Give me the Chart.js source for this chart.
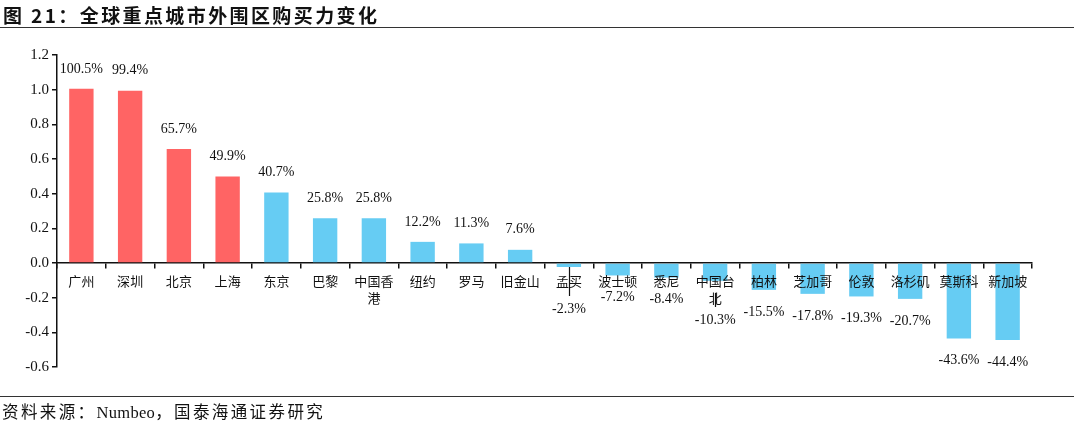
<!DOCTYPE html>
<html><head><meta charset="utf-8">
<script src="https://cdn.jsdelivr.net/npm/chart.js@4.4.1/dist/chart.umd.min.js"></script>
<style>
html,body{margin:0;padding:0;background:#fff;width:1080px;height:423px;overflow:hidden;}
#title{position:absolute;left:3px;top:1px;font-family:"Noto Sans CJK SC","Liberation Serif",serif;font-weight:bold;font-size:19px;color:#111;letter-spacing:2.4px;}
#tline{position:absolute;left:0;top:27px;width:1074px;height:0;border-top:1.5px solid #333;}
#sline{position:absolute;left:0;top:396px;width:1074px;height:0;border-top:1.5px solid #333;}
#source{position:absolute;left:2px;top:399px;font-family:"Liberation Serif","Noto Sans CJK SC",serif;font-size:16.5px;color:#111;letter-spacing:2.4px;}
#source .en{letter-spacing:0.3px;}
#wrap{position:absolute;left:0;top:0;width:1080px;height:423px;}
</style></head>
<body>
<div id="wrap"><canvas id="c"></canvas></div>
<div id="title">图 21：全球重点城市外围区购买力变化</div>
<div id="tline"></div>
<div id="sline"></div>
<div id="source">资料来源：<span class="en">Numbeo</span>，国泰海通证券研究</div>
<script>
const categories = ['广州','深圳','北京','上海','东京','巴黎',['中国香','港'],'纽约','罗马','旧金山','孟买','波士顿','悉尼',['中国台','北'],'柏林','芝加哥','伦敦','洛杉矶','莫斯科','新加坡'];
const values = [1.005,0.994,0.657,0.499,0.407,0.258,0.258,0.122,0.113,0.076,-0.023,-0.072,-0.084,-0.103,-0.155,-0.178,-0.193,-0.207,-0.436,-0.444];
const yTicks = [-0.6,-0.4,-0.2,0.0,0.2,0.4,0.6,0.8,1.0,1.2];
const highlightCount = 4;

const RED = '#FF6464';
const BLUE = '#66CCF3';
const colors = values.map((v,i)=> i < highlightCount ? RED : BLUE);

const labelPlugin = {
  id:'vlabels',
  afterDatasetsDraw(chart){
    const ctx = chart.ctx;
    const meta = chart.getDatasetMeta(0);
    const yScale = chart.scales.y;
    const zeroY = yScale.getPixelForValue(0);
    ctx.save();
    ctx.font = '14px "Liberation Serif", serif';
    ctx.fillStyle = '#111';
    ctx.textAlign = 'center';
    ctx.textBaseline = 'middle';
    meta.data.forEach((bar,i)=>{
      const v = values[i];
      const txt = (v*100).toFixed(1) + '%';
      let y;
      if (v >= 0) {
        y = Math.max(bar.y - 20, 69);
      } else {
        y = bar.y + 22;
        const lines = Array.isArray(categories[i]) ? categories[i].length : 1;
        const threshold = zeroY + 30 + (lines-1)*17;
        if (y < threshold) {
          y = zeroY + 46 + (lines-1)*11;
          ctx.strokeStyle = '#111';
          ctx.lineWidth = 1.2;
          ctx.beginPath();
          const x0 = Math.round(bar.x) + 0.5;
          ctx.moveTo(x0, bar.y + (lines > 1 ? 12 : 0));
          ctx.lineTo(x0, y - 13);
          ctx.stroke();
        }
      }
      ctx.fillText(txt, bar.x, y);
    });
    ctx.restore();
  }
};

new Chart(document.getElementById('c'), {
  type:'bar',
  data:{
    labels: categories,
    datasets:[{data: values, backgroundColor: colors, borderWidth:0, barPercentage:0.5, categoryPercentage:1.0}]
  },
  options:{
    responsive:true,
    maintainAspectRatio:false,
    animation:false,
    layout:{padding:{top:55,bottom:56,left:0,right:48}},
    plugins:{legend:{display:false},tooltip:{enabled:false}},
    scales:{
      x:{
        position:{y:0},
        grid:{display:true,drawOnChartArea:false,drawTicks:true,tickLength:5,color:'#111',lineWidth:1.5,offset:true},
        border:{display:true,color:'#111',width:1.5},
        ticks:{z:1,color:'#111',padding:5,maxRotation:0,autoSkip:false,font:{family:'"Noto Sans CJK SC", sans-serif',size:13,lineHeight:1.3}}
      },
      y:{
        min:-0.6,max:1.2,
        afterFit(s){ s.width = 57; },
        afterBuildTicks(s){ s.ticks = yTicks.map(v=>({value:v})); },
        grid:{display:true,drawOnChartArea:false,drawTicks:true,tickLength:5,color:'#111',lineWidth:1.5},
        border:{display:true,color:'#111',width:1.5},
        ticks:{color:'#111',padding:3,font:{family:'"Liberation Serif", serif',size:15},callback:(v)=>Number(v).toFixed(1)}
      }
    }
  },
  plugins:[labelPlugin]
});
</script>
</body></html>
